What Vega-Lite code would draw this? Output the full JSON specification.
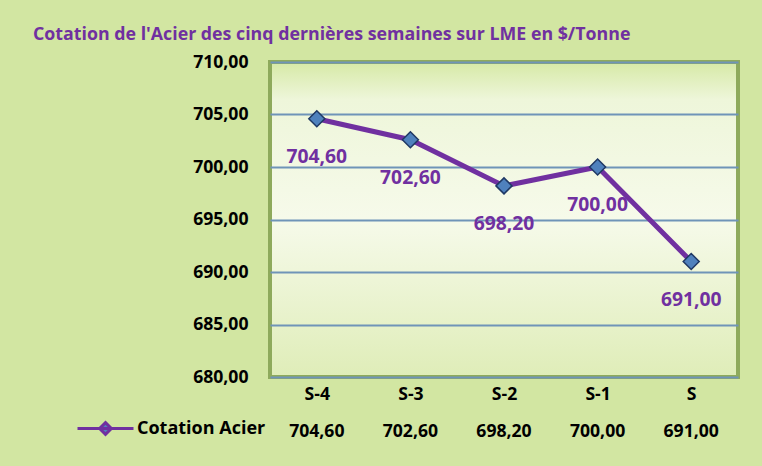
{
  "$schema": "https://vega.github.io/schema/vega-lite/v6.json",
  "background": "#d2e6a2",
  "padding": {"left": 33, "top": 26, "right": 22, "bottom": 26},
  "config": {
    "locale": {"number": {"decimal": ",", "thousands": " ", "grouping": [3], "currency": ["", " $"]}},
    "font": "Open Sans",
    "concat": {"spacing": 15}
  },
  "title": {"text": "Cotation de l'Acier des cinq dernières semaines sur LME en $/Tonne", "anchor": "start", "color": "#7030a0", "fontSize": 17.8, "fontWeight": "bold", "font": "Open Sans", "offset": 7, "dx": -43},
  "datasets": {
    "cotation": [
      {"semaine": "S-4", "valeur": 704.6},
      {"semaine": "S-3", "valeur": 702.6},
      {"semaine": "S-2", "valeur": 698.2},
      {"semaine": "S-1", "valeur": 700.0},
      {"semaine": "S", "valeur": 691.0}
    ]
  },
  "vconcat": [
    {
      "width": 468,
      "height": 315,
      "data": {"name": "cotation"},
      "view": {"fill": {"expr": "{gradient: 'linear', x1: 0, y1: 0, x2: 0, y2: 1, stops: [{offset: 0, color: '#d6e9a6'}, {offset: 0.12, color: '#eef6da'}, {offset: 0.5, color: '#f6faea'}, {offset: 1, color: '#dfedb8'}]}"}, "stroke": "#8eaa5c", "strokeWidth": 4},
      "encoding": {
        "x": {"field": "semaine", "type": "nominal", "sort": null,
          "axis": {"title": null, "labelAngle": 0, "domain": false, "ticks": false, "labelPadding": 8, "labelFontSize": 17.6, "labelFontWeight": "bold", "labelColor": "black"}},
        "y": {"field": "valeur", "type": "quantitative", "scale": {"domain": [680, 710], "nice": false, "zero": false},
          "axis": {"title": null, "values": [680, 685, 690, 695, 700, 705, 710], "format": ".2f", "domain": false, "ticks": false, "labelPadding": 22, "labelFontSize": 17.6, "labelFontWeight": "bold", "labelColor": "black", "gridColor": "#6f94b8", "gridWidth": 2, "gridOpacity": 1}}
      },
      "layer": [
        {
          "mark": {"type": "line", "strokeWidth": 5},
          "encoding": {
            "color": {"datum": "Cotation Acier", "scale": {"range": ["#7030a0"]},
              "legend": {"orient": "none", "legendX": -194, "legendY": 337, "title": null, "padding": 0, "symbolType": "M-1,0H1M0,-0.21L0.21,0L0,0.21L-0.21,0Z", "symbolSize": 3136, "symbolStrokeWidth": 3, "labelOffset": 2, "labelFontSize": 18, "labelFontWeight": "bold", "labelColor": "black", "labelFont": "Open Sans",
                "encode": {"symbols": {"update": {"fill": {"value": "#4f81bd"}, "fillOpacity": {"value": 1}}}}}}
          }
        },
        {
          "mark": {"type": "point", "shape": "diamond", "size": 256, "filled": true, "fill": "#4f81bd", "stroke": "#1f3864", "strokeWidth": 1.5, "opacity": 1}
        },
        {
          "mark": {"type": "text", "dy": 38, "fontSize": 19.3, "fontWeight": "bold", "color": "#7030a0"},
          "encoding": {"text": {"field": "valeur", "type": "quantitative", "format": ".2f"}}
        }
      ]
    },
    {
      "width": 468,
      "height": 24,
      "data": {"name": "cotation"},
      "view": {"stroke": null},
      "mark": {"type": "text", "fontSize": 17.6, "fontWeight": "bold", "color": "black"},
      "encoding": {
        "x": {"field": "semaine", "type": "nominal", "sort": null, "axis": null},
        "text": {"field": "valeur", "type": "quantitative", "format": ".2f"}
      }
    }
  ]
}
